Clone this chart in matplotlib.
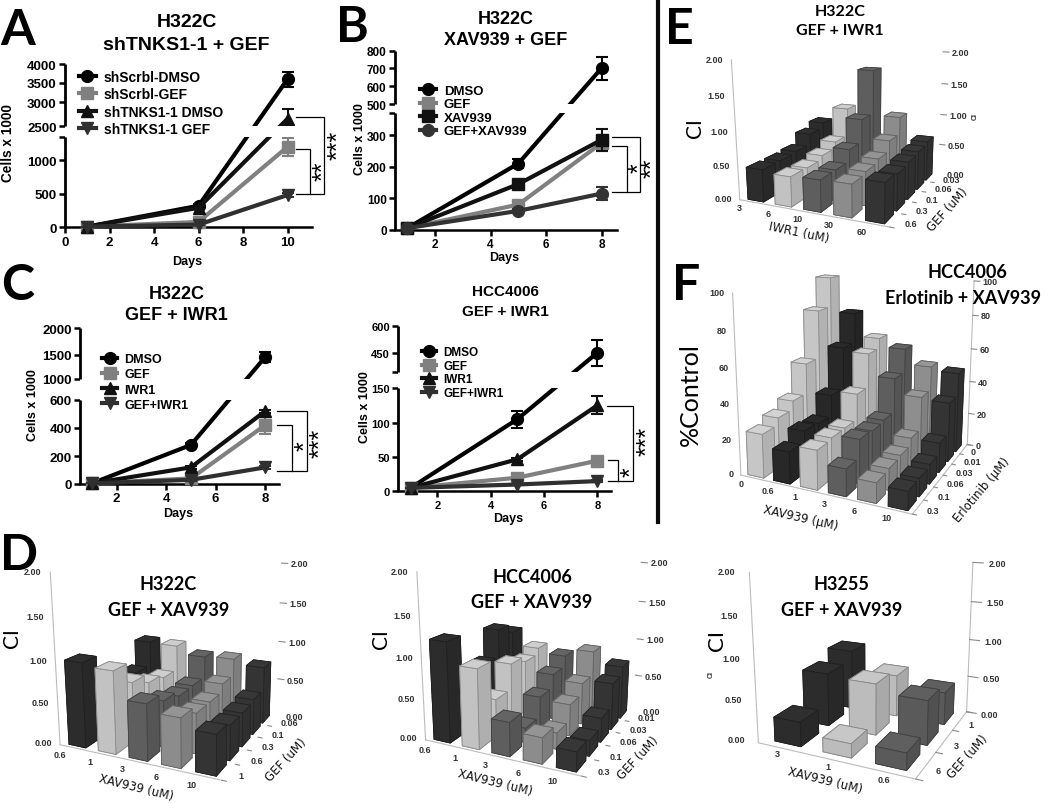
import numpy as np
import matplotlib
matplotlib.use("Agg")
import matplotlib.pyplot as plt
from matplotlib.lines import Line2D
from matplotlib.colors import to_rgb

W, H = 1050, 804
SANS = "Liberation Sans"
LATO = "Lato"

# ---------------- growth curve data ----------------
a_days = [1, 6, 10]
a_labels = ["shScrbl-DMSO", "shScrbl-GEF", "shTNKS1-1 DMSO", "shTNKS1-1 GEF"]
a_vals = [[10, 320, 3600], [10, 80, 1200], [10, 290, 2650], [10, 40, 480]]
a_errs = [[0, 30, 200], [0, 10, 130], [0, 20, 210], [0, 8, 30]]

b_days = [1, 5, 8]
b_labels = ["DMSO", "GEF", "XAV939", "GEF+XAV939"]
b_vals = [[5, 210, 700], [5, 80, 275], [5, 145, 285], [5, 60, 115]]
b_errs = [[0, 15, 65], [0, 8, 25], [0, 8, 35], [0, 6, 20]]

c_days = [1, 5, 8]
c_labels = ["DMSO", "GEF", "IWR1", "GEF+IWR1"]
c_vals = [[5, 280, 1450], [5, 40, 420], [5, 120, 520], [5, 30, 120]]
c_errs = [[0, 15, 110], [0, 5, 65], [0, 10, 10], [0, 5, 10]]

h_days = [1, 5, 8]
h_labels = ["DMSO", "GEF", "IWR1", "GEF+IWR1"]
h_vals = [[5, 105, 450], [5, 20, 45], [5, 47, 125], [5, 10, 15]]
h_errs = [[0, 12, 75], [0, 2, 2], [0, 2, 13], [0, 1, 2]]

# ---------------- combination index data (rows: x categories, front to back) ----------------
e_x = ["3", "6", "10", "30", "60"]
e_y = ["0.6", "0.3", "0.1", "0.06", "0.03"]
e_vals = [[.48, .48, .50, .67, .76],
          [.44, .43, .49, .59, 1.04],
          [.46, .46, .64, 1.00, 1.70],
          [.47, .50, .55, .71, .98],
          [.56, .53, .56, .59, .63]]

f_x = ["0", "0.6", "1", "3", "6", "10"]
f_y = ["0.3", "0.1", "0.06", "0.03", "0.01", "0"]
f_vals = [[25, 29, 34, 52, 81, 99],
          [18, 24, 23, 35, 60, 78],
          [22, 23, 23, 38, 58, 64],
          [15, 25, 24, 25, 45, 59],
          [11, 12, 13, 17, 36, 50],
          [10, 10, 11, 17, 35, 48]]

d1_x = ["0.6", "1", "3", "6", "10"]
d1_y = ["1", "0.6", "0.3", "0.1", "0.06"]
d1_vals = [[1.01, .37, .39, .56, .88],
           [.97, .72, .60, .55, .87],
           [.66, .56, .49, .50, .77],
           [.57, .48, .48, .58, .79],
           [.46, .41, .41, .44, .73]]

d2_x = ["0.6", "1", "3", "6", "10"]
d2_y = ["0.3", "0.1", "0.06", "0.03", "0.01"]
d2_vals = [[1.23, .53, .74, 1.10, .98],
           [.97, .47, .80, .72, .80],
           [.41, .18, .43, .60, .74],
           [.31, .20, .40, .54, .85],
           [.23, .19, .30, .60, .70]]

d3_x = ["3", "1", "0.6"]
d3_y = ["6", "3", "1"]
d3_vals = [[.30, .68, .80],
           [.17, .65, .55],
           [.20, .55, .42]]

dpi = 100
fig = plt.figure(figsize=(W / dpi, H / dpi), dpi=dpi, facecolor="white")


def fx(x):
    return x / W


def fy(y):
    return 1 - y / H


def ftext(x, y, s, size, family=SANS, weight="bold", rot=0, color="black", **kw):
    fig.text(fx(x), fy(y), s, fontsize=size, family=family, fontweight=weight, rotation=rot,
             ha="center", va="center", color=color, rotation_mode="anchor", **kw)


def fline(xs, ys, lw=1.0, color="black"):
    fig.add_artist(Line2D([fx(v) for v in xs], [fy(v) for v in ys], lw=lw, color=color,
                          solid_joinstyle="miter", transform=fig.transFigure))


def growth(days, labels, vals, errs, markers, colors, box, xlim, xticks, ymap, yticks, ylabels,
           seg_low, seg_high, leg_xy, leg_size, tick_size, leg_space):
    """box = left,right,top,bottom px. ymap = (value knots, px knots)."""
    left, right, top, bottom = box
    ax = fig.add_axes([fx(left), fy(bottom), (right - left) / W, (bottom - top) / H])
    ax.patch.set_alpha(0)
    kv, kp = ymap
    pos = (bottom - np.array(kp, float)) / (bottom - top)
    kv = np.array(kv, float)
    ax.set_yscale("function", functions=(lambda v: np.interp(v, kv, pos, left=-0.1, right=1.1),
                                         lambda p: np.interp(p, pos, kv)))
    ax.set_ylim(kv[0], kv[-1])
    ax.set_xlim(*xlim)
    handles = []
    for i in range(len(labels)):
        ax.errorbar(days, vals[i], yerr=errs[i], color=colors[i], marker=markers[i], ms=8.5, lw=3.0,
                    elinewidth=1.5, capsize=4.5, capthick=1.5, clip_on=False, zorder=3 + i * 0.1)
        handles.append(Line2D([], [], color=colors[i], marker=markers[i], ms=8.5, lw=3.0, label=labels[i]))
    ax.axhspan(seg_low, seg_high, xmin=0, xmax=1, color="white", lw=0, zorder=5)
    for s in ("top", "right", "left"):
        ax.spines[s].set_visible(False)
    ax.spines["bottom"].set_linewidth(1.8)
    ax.plot([xlim[0]] * 2, [kv[0], seg_low], color="black", lw=2.0, clip_on=False, zorder=6,
            solid_capstyle="butt")
    ax.plot([xlim[0]] * 2, [seg_high, kv[-1]], color="black", lw=2.0, clip_on=False, zorder=6,
            solid_capstyle="butt")
    ax.set_xticks(xticks)
    ax.set_yticks(yticks)
    ax.set_yticklabels(ylabels)
    ax.minorticks_off()
    ax.tick_params(axis="both", length=4.5, width=1.8, pad=1.5, labelsize=tick_size)
    for t in ax.get_xticklabels() + ax.get_yticklabels():
        t.set_family(SANS)
        t.set_fontweight("bold")
    leg = ax.legend(handles=handles, loc="upper left", bbox_to_anchor=(fx(leg_xy[0]), fy(leg_xy[1])),
                    bbox_transform=fig.transFigure, frameon=False, borderpad=0, borderaxespad=0,
                    labelspacing=leg_space, handlelength=1.2, handletextpad=0.6,
                    prop={"family": SANS, "weight": "bold", "size": leg_size})
    leg.set_zorder(8)
    return ax


mk1 = ["o", "s", "^", "v"]
cl = ["#000000", "#808080", "#111111", "#303030"]

growth(a_days, a_labels, a_vals, a_errs, mk1, cl, (65, 312, 65, 228.3), (0, 11.1), [0, 2, 4, 6, 8, 10],
       ([0, 500, 1000, 1350, 2500, 3000, 3500, 4000], [228.3, 194.7, 161.3, 137.7, 127, 103, 84, 65]),
       [0, 500, 1000, 1350, 2500, 3000, 3500, 4000], ["0", "500", "1000", "", "2500", "3000", "3500", "4000"],
       1350, 2500, (79, 70.5), 10, 9.5, 0.26)
growth(b_days, b_labels, b_vals, b_errs, ["o", "s", "s", "o"], ["#000000", "#808080", "#111111", "#333333"],
       (395, 616.7, 51.7, 230.7), (0.56, 8.54), [2, 4, 6, 8],
       ([0, 100, 200, 300, 370, 500, 600, 700, 800], [230.7, 199.3, 167.7, 136, 114, 105, 87, 69, 51.7]),
       [0, 100, 200, 300, 370, 500, 600, 700, 800], ["0", "100", "200", "300", "", "500", "600", "700", "800"],
       370, 500, (420, 85.5), 9.5, 8.5, 0.1)
growth(c_days, c_labels, c_vals, c_errs, mk1, cl, (80, 279, 329.3, 485), (0.52, 8.56), [2, 4, 6, 8],
       ([0, 200, 400, 600, 1000, 1500, 2000], [485, 457.3, 429, 401, 380, 355.7, 329.3]),
       [0, 200, 400, 600, 1000, 1500, 2000], ["0", "200", "400", "600", "1000", "1500", "2000"],
       600, 1000, (102, 354), 9, 9.5, 0.26)
growth(h_days, h_labels, h_vals, h_errs, mk1, cl, (398.3, 610.7, 327.3, 492.3), (0.54, 8.5), [2, 4, 6, 8],
       ([0, 50, 100, 150, 340, 450, 600], [492.3, 458.3, 423.7, 389, 372.7, 353.7, 327.3]),
       [0, 50, 100, 150, 340, 450, 600], ["0", "50", "100", "150", "", "450", "600"],
       150, 340, (422, 347), 8.5, 8, 0.14)

# titles
for x, y, s, sz in [(186.7, 22.7, "H322C", 14), (186.7, 45, "shTNKS1-1 + GEF", 14),
                    (505.7, 20, "H322C", 13), (505.7, 40.7, "XAV939 + GEF", 13),
                    (176.7, 294.3, "H322C", 13), (176.7, 315.7, "GEF + IWR1", 13),
                    (505.7, 292.3, "HCC4006", 11), (505.7, 311.7, "GEF + IWR1", 11)]:
    ftext(x, y, s, sz)
for x, y in [(187, 261.7), (504, 258), (178, 514), (508, 519)]:
    ftext(x, y, "Days", 9)
for x, y, sz in [(8.3, 143.3, 9.8), (360, 139, 9), (33.3, 405, 9), (365, 406.7, 9)]:
    ftext(x, y, "Cells x 1000", sz, rot=90)
for x, y, s in [(18, 30.7, "A"), (352.7, 28, "B"), (18, 285, "C"), (19, 555, "D"), (679, 30, "E"), (686, 285, "F")]:
    ftext(x, y, s, 36, family=LATO)

# significance brackets
fline([295.7, 324.3, 324.3, 295.7], [118.3, 118.3, 195, 195], lw=0.9)
fline([295.7, 310.3, 310.3], [149.7, 149.7, 195], lw=0.9)
fline([611.7, 640, 640, 611.7], [137.7, 137.7, 192.7, 192.7], lw=0.9)
fline([611.7, 626.7, 626.7], [147.3, 147.3, 192.7], lw=0.9)
fline([276.7, 306.7, 306.7, 276.7], [412, 412, 471.7, 471.7], lw=0.9)
fline([276.7, 291.7, 291.7], [425.7, 425.7, 471.7], lw=0.9)
fline([606.7, 632.7, 632.7, 608.3], [407.3, 407.3, 482.3, 482.3], lw=0.9)
fline([608.3, 617.7, 617.7], [460.7, 460.7, 482.3], lw=0.9)
for x, y, s in [(332, 145, "***"), (317.7, 171.7, "**"), (633, 168, "*"), (646.7, 168, "**"),
                (299, 446, "*"), (314.3, 443.3, "***"), (625.7, 471.7, "*"), (641.7, 441.7, "***")]:
    fig.text(fx(x + 6), fy(y), s, fontsize=18, family=SANS, rotation=90, ha="center", va="center",
             rotation_mode="anchor")

# divider
fline([658, 658], [0, 523], lw=3.0, color="#0a0a0a")


def shade(c, f):
    return tuple(min(1, v * f) for v in to_rgb(c))


def solve_projection(ax, zmax, nx, ny, corners):
    """Fit the 3x4 camera of a panel to the corners of its box (pixels)."""
    ax.apply_aspect()
    inv = ax.transData.inverted()
    world = [(0, 0, 0, "LB"), (0, 0, zmax, "LT"), (0, ny, zmax, "BT"), (0, ny, 0, "BB"),
             (nx, ny, zmax, "RT"), (nx, ny, 0, "RB"), (nx, 0, 0, "FB")]
    A = []
    for X, Y, Z, key in world:
        px, py = corners[key]
        u, v = inv.transform((px, H - py))
        p = [X, Y, Z, 1]
        A.append(p + [0, 0, 0, 0] + [-u * q for q in p])
        A.append([0, 0, 0, 0] + p + [-v * q for q in p])
    _, _, vt = np.linalg.svd(np.array(A, float))
    P = vt[-1].reshape(3, 4)
    P = P / (P[2] @ np.array([nx / 2, ny / 2, zmax / 2, 1]))
    depth = np.array([-1 / nx, 1 / ny, -0.5 / zmax, 0.0])
    return np.vstack([P[0], P[1], depth, P[2]])


def bars3d(corners, xlabels, ylabels, vals, zmax, zstep, zlabel_step, zfmt, colors, wx=0.58, wy=0.72,
           tick_size=6.5, xlab_off=(0.4, -0.55), right_pad=0.3, left_pad=0.3, ylab_pad=0.3):
    nx, ny = len(xlabels), len(ylabels)
    size = 340
    cx = np.mean([c[0] for c in corners.values()])
    cy = np.mean([c[1] for c in corners.values()])
    left = min(max(cx - size / 2, 0), W - size)
    top = min(max(cy - size / 2, 0), H - size)
    ax = fig.add_axes([fx(left), fy(top + size), size / W, size / H], projection="3d",
                      computed_zorder=False)
    ax.set_axis_off()
    ax.patch.set_alpha(0)
    ax.set_xlim(0, nx)
    ax.set_ylim(0, ny)
    ax.set_zlim(0, zmax)
    ax.set_xticks([])
    ax.set_yticks([])
    ax.set_zticks([])
    M = solve_projection(ax, zmax, nx, ny, corners)
    ax.get_proj = lambda: M

    def label(x, y, z, s, ha):
        v = M @ np.array([x, y, z, 1.0])
        ax.text2D(v[0] / v[3], v[1] / v[3], s, transform=ax.transData, ha=ha, va="center",
                  fontsize=tick_size, family=SANS, fontweight="bold", color="#333333", zorder=300)

    grid = "#bcbcbc"
    levels = np.arange(0, zmax + 1e-9, zstep)
    for z in levels:
        ax.plot([0, 0], [0, ny], [z, z], color=grid, lw=0.8, zorder=1)
        ax.plot([0, nx], [ny, ny], [z, z], color=grid, lw=0.8, zorder=1)
    for xx, yy in [(0, 0), (0, ny), (nx, ny)]:
        ax.plot([xx, xx], [yy, yy], [0, zmax], color=grid, lw=0.8, zorder=1)
    for i in range(nx + 1):
        ax.plot([i, i], [0, ny], [0, 0], color=grid, lw=0.8, zorder=1)
    for j in (0, ny):
        ax.plot([0, nx], [j, j], [0, 0], color=grid, lw=0.8, zorder=1)
    for j in range(ny + 1):
        ax.plot([nx, nx + 0.12], [j, j], [0, 0], color="#8a8a8a", lw=0.8, zorder=1)
    for z in levels:
        if abs(z / zlabel_step - round(z / zlabel_step)) < 1e-6:
            ax.plot([nx, nx + 0.2], [ny, ny], [z, z], color="#8a8a8a", lw=0.8, zorder=1)
            s = zfmt % z
            label(-left_pad, 0, z, s, "right")
            label(nx + right_pad, ny, z, s, "left")
    for i, s in enumerate(xlabels):
        label(i + xlab_off[0], xlab_off[1], 0, s, "center")
    for j, s in enumerate(ylabels):
        label(nx + ylab_pad, j + 0.4, 0, s, "left")

    k = 10
    for j in range(ny - 1, -1, -1):
        for i in range(nx):
            c = colors[i]
            face = [c, shade(c, 1.06), c, c, c, shade(c, 0.9)]
            col = ax.bar3d(i + 0.5 - wx / 2, j + 0.5 - wy / 2, 0, wx, wy, vals[i][j], color=face, shade=False,
                           edgecolor=shade(c, 0.72), linewidth=0.6)
            col.set_zorder(k)
            k += 1
    ax.get_proj = lambda: M
    return ax


def offs(ox, oy, pts):
    return {k: (ox + v[0] / 3, oy + v[1] / 3) for k, v in pts.items()}


pal5 = ["#2c2c2c", "#c2c2c2", "#5e5e5e", "#8c8c8c", "#343434"]
pal6 = ["#c6c6c6", "#282828", "#c0c0c0", "#5e5e5e", "#8e8e8e", "#343434"]

bars3d(offs(660, 0, dict(LB=(238, 603), LT=(215, 183), BT=(460, 143), BB=(470, 473), RT=(850, 158),
                         RB=(835, 525), FB=(690, 683))),
       e_x, e_y, e_vals, 2.0, 0.25, 0.5, "%.2f", pal5)
bars3d(offs(660, 260, dict(LB=(245, 655), LT=(222, 95), BT=(480, 45), BB=(492, 480), RT=(945, 68),
                           RB=(925, 555), FB=(750, 765))),
       f_x, f_y, f_vals, 100, 10, 20, "%.0f", pal6, wx=0.62, wy=0.72)
bars3d(offs(0, 530, dict(LB=(180, 650), LT=(152, 128), BT=(418, 80), BB=(430, 490), RT=(845, 102),
                         RB=(830, 560), FB=(665, 752))),
       d1_x, d1_y, d1_vals, 2.0, 0.25, 0.5, "%.2f", pal5)
bars3d(offs(350, 530, dict(LB=(225, 635), LT=(203, 127), BT=(458, 78), BB=(468, 475), RT=(875, 100),
                           RB=(850, 545), FB=(695, 740))),
       d2_x, d2_y, d2_vals, 2.0, 0.25, 0.5, "%.2f", pal5)
bars3d(offs(700, 530, dict(LB=(175, 645), LT=(150, 128), BT=(405, 80), BB=(415, 480), RT=(820, 100),
                           RB=(800, 550), FB=(645, 748))),
       d3_x, d3_y, d3_vals, 2.0, 0.25, 0.5, "%.2f", ["#2c2c2c", "#bcbcbc", "#5a5a5a"], wx=0.55, wy=0.62,
       xlab_off=(0.55, -0.22), ylab_pad=0.2)

# 3D panel annotation
ctitle = [(840, 11.7, "H322C", 11.5), (840, 30.7, "GEF + IWR1", 11.5),
          (967, 273, "HCC4006", 13), (963, 299, "Erlotinib + XAV939", 13),
          (168, 585, "H322C", 13), (169, 610.7, "GEF + XAV939", 13),
          (532, 577.7, "HCC4006", 13), (532, 603, "GEF + XAV939", 13),
          (841.7, 584, "H3255", 13), (841.7, 610, "GEF + XAV939", 13)]
for x, y, s, sz in ctitle:
    ftext(x, y, s, sz, family=LATO)
for x, y, s, sz in [(12, 638, "CI", 15), (380.7, 639, "CI", 15), (716.7, 640.7, "CI", 16), (695, 128, "CI", 15),
                    (690, 395, "%Control", 18)]:
    ftext(x, y, s, sz, family=LATO, weight="normal", rot=90)
ftext(711.7, 675, "CI", 5, rot=90, color="#333333")
ftext(975, 117, "CI", 5, rot=90, color="#333333")
ax_titles = [(799, 232.7, "IWR1 (uM)", -12), (948, 210, "GEF (uM)", 48),
             (800.7, 518, "XAV939 (\u00b5M)", -13), (981.7, 490, "Erlotinib (\u00b5M)", 50),
             (136, 788, "XAV939 (uM)", -14), (286, 760, "GEF (uM)", 47),
             (495, 783, "XAV939 (uM)", -14), (638, 758, "GEF (uM)", 47),
             (825, 780.7, "XAV939 (uM)", -14), (967.7, 756.7, "GEF (uM)", 48)]
for x, y, s, r in ax_titles:
    ftext(x, y, s, 8.5, family="DejaVu Sans", weight="normal", rot=r, color="#111111")

fig.savefig("out.png", dpi=dpi, facecolor="white")
